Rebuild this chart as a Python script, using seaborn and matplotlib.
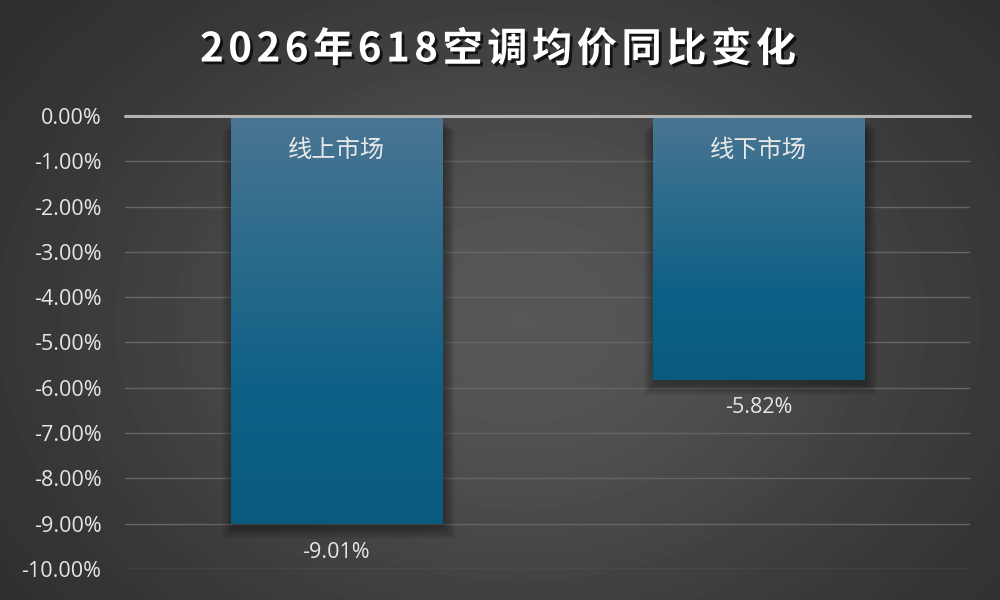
import numpy as np
import matplotlib
matplotlib.use("Agg")
import matplotlib.pyplot as plt
import matplotlib.patheffects as pe
from matplotlib.colors import LinearSegmentedColormap
from matplotlib.patches import Rectangle
import seaborn as sns

# data
title = "2026年618空调均价同比变化"
markets = ["线上市场", "线下市场"]
yoy_change = [-9.01, -5.82]
y_ticks = [0, -1, -2, -3, -4, -5, -6, -7, -8, -9, -10]

sns.set_theme(style="dark")
plt.rcParams['font.family'] = ['Open Sans', 'Noto Sans CJK SC', 'DejaVu Sans']

fig = plt.figure(figsize=(10, 6), dpi=100)

# radial grey background
bg = fig.add_axes([0, 0, 1, 1], zorder=-10)
yy, xx = np.mgrid[0:600, 0:1000]
r = np.sqrt(((xx - 520) / 620) ** 2 + ((yy - 320) / 470) ** 2)
v = 0.17 + 0.17 * np.exp(-2.0 * r ** 2)
bg.imshow(v, cmap="gray", vmin=0, vmax=1, aspect="auto", extent=[0, 1, 0, 1])
bg.set_axis_off()

ax = fig.add_axes([0.125, 0.0517, 0.845, 0.755])
ax.patch.set_alpha(0)

sns.barplot(x=markets, y=yoy_change, ax=ax, width=0.5, color="#2a6a8c",
            saturation=1, zorder=3)

ax.set_ylim(-10, 0)
ax.set_xlim(-0.5, 1.5)

# gradient fill + soft shadow for each bar
grad = LinearSegmentedColormap.from_list("bar", ["#0a5a7e", "#0e6086", "#2b6b8c", "#4a7592"])
px_x = 2 / 845
px_y = 10 / 453
for p in ax.patches:
    x0, w = p.get_x(), p.get_width()
    y0, h = p.get_y(), p.get_height()
    ytop, ybot = max(y0, y0 + h), min(y0, y0 + h)
    for k in range(12):
        grow = 1.0 * k
        s = Rectangle((x0 + (2 - grow) * px_x, ybot - (4 + grow) * px_y),
                      w + 2 * grow * px_x, (ytop - ybot),
                      facecolor="black", edgecolor="none", alpha=0.032, zorder=2)
        ax.add_patch(s)
    g = np.linspace(0, 1, 256).reshape(-1, 1)
    im = ax.imshow(g, cmap=grad, aspect="auto", origin="lower",
                   extent=[x0, x0 + w, ybot, ytop], zorder=3.5)
    im.set_clip_path(p)
    p.set_edgecolor("none")

ax.set_xlim(-0.5, 1.5)
ax.set_ylim(-10, 0)

ax.set_yticks(y_ticks)
ax.set_yticklabels([f"{t:.2f}%" for t in y_ticks])
ax.tick_params(axis="y", colors="#e6e6e6", labelsize=15.5, length=0, pad=17)
ax.set_xticks([])
ax.set_xlabel("")
ax.set_ylabel("")
for s in ax.spines.values():
    s.set_visible(False)
ax.grid(axis="y", color="#656565", lw=1, zorder=1)
ax.grid(axis="x", visible=False)
ax.axhline(0, color="#b2b2b2", lw=2.2, zorder=5, clip_on=False)

for i, (m, val) in enumerate(zip(markets, yoy_change)):
    ax.text(i, -0.75, m, ha="center", va="center", color="#e8e8e8",
            fontsize=17.5, family=["Noto Sans CJK SC"], zorder=6)
    ax.text(i, val - 0.62, f"{val:.2f}%", ha="center", va="center",
            color="#e6e6e6", fontsize=15.5, zorder=6)

# title with letter spacing
renderer = fig.canvas.get_renderer()
kw = dict(fontsize=29, fontweight="bold", color="white",
          family=["Noto Sans CJK SC", "DejaVu Sans"], va="center", ha="left")
widths = []
for ch in title:
    t = fig.text(0, 0, ch, **kw)
    widths.append(t.get_window_extent(renderer).width)
    t.remove()
start, end = 200, 796
track = (end - start - sum(widths)) / (len(title) - 1)
x = start
for ch, w in zip(title, widths):
    fig.text(x / 1000, 1 - 50 / 600, ch, **kw,
             path_effects=[pe.withSimplePatchShadow(offset=(2, -2), shadow_rgbFace="black", alpha=0.7)])
    x += w + track

fig.savefig("out.png", dpi=100)
